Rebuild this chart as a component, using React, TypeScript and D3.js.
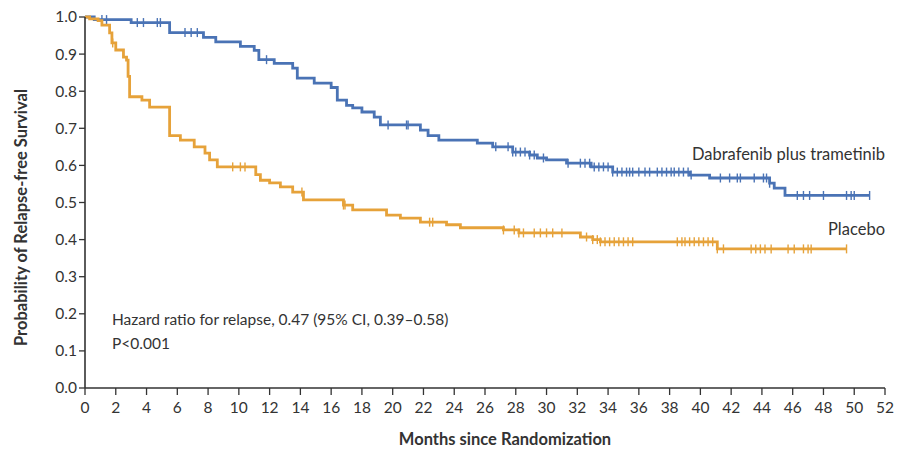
import * as d3 from 'd3'

const width = 899
const height = 449

const margin = { top: 17, right: 14, bottom: 61, left: 85 }

const xTicks = d3.range(0, 53, 2)
const yTicks = d3.range(0, 11).map((d) => d / 10)

// Kaplan-Meier steps: [month, survival]
const comboSteps: [number, number][] = [
  [0, 1.0], [0.6, 0.993], [3.0, 0.985], [5.5, 0.958], [7.7, 0.945], [8.5, 0.933],
  [10.1, 0.921], [11.0, 0.91], [11.3, 0.885], [12.3, 0.875], [13.5, 0.862],
  [13.8, 0.835], [14.9, 0.822], [16.0, 0.81], [16.4, 0.776], [17.0, 0.762],
  [17.4, 0.755], [18.0, 0.744], [18.8, 0.73], [19.2, 0.709], [21.8, 0.695],
  [22.3, 0.68], [23.0, 0.668], [25.5, 0.66], [26.5, 0.65], [27.8, 0.636],
  [28.9, 0.628], [29.4, 0.62], [30.0, 0.615], [31.3, 0.606], [32.9, 0.596],
  [34.3, 0.582], [39.3, 0.574], [40.6, 0.566], [44.5, 0.552], [44.8, 0.539],
  [45.5, 0.519], [51.0, 0.519]
]

const placeboSteps: [number, number][] = [
  [0, 1.0], [0.3, 0.995], [0.85, 0.99], [1.1, 0.978], [1.6, 0.957], [1.75, 0.93],
  [2.0, 0.911], [2.5, 0.892], [2.7, 0.884], [2.8, 0.84], [2.9, 0.785], [3.7, 0.776],
  [4.2, 0.757], [5.5, 0.68], [6.2, 0.668], [7.1, 0.65], [7.8, 0.633], [8.1, 0.615],
  [8.6, 0.596], [11.1, 0.575], [11.4, 0.56], [12.0, 0.553], [12.7, 0.542],
  [13.5, 0.528], [14.2, 0.507], [16.8, 0.493], [17.4, 0.48], [19.6, 0.466],
  [20.5, 0.458], [21.8, 0.447], [23.5, 0.44], [24.4, 0.432], [27.2, 0.426],
  [28.2, 0.418], [32.2, 0.407], [33.0, 0.4], [33.5, 0.394], [41.1, 0.375],
  [49.5, 0.375]
]

// censoring marks (months)
const comboCensored = [
  1.1, 1.4, 3.4, 3.8, 4.7, 4.9, 6.5, 6.9, 7.3, 11.8, 19.7, 20.9, 21.0, 26.7,
  27.5, 27.8, 28.0, 28.3, 28.6, 28.9, 29.2, 29.8, 31.4, 32.2, 32.5, 32.8, 33.1,
  33.4, 33.7, 34.0, 34.3, 34.6, 34.9, 35.2, 35.4, 35.6, 36.0, 36.4, 36.7, 37.2,
  37.5, 37.8, 38.1, 38.3, 38.6, 38.9, 39.2, 39.4, 41.3, 41.9, 42.4, 42.6, 43.5,
  44.1, 44.3, 44.5, 46.3, 46.7, 47.1, 48.0, 49.5, 49.8, 50.0, 51.0
]

const placeboCensored = [
  1.8, 9.6, 10.1, 10.4, 14.1, 16.8, 16.9, 22.4, 22.6, 27.2, 27.9, 28.2, 28.5,
  29.2, 29.6, 30.0, 30.4, 31.0, 32.6, 33.0, 33.3, 33.5, 33.8, 34.1, 34.4, 34.7,
  35.0, 35.3, 35.6, 38.5, 38.8, 39.0, 39.3, 39.6, 39.9, 40.2, 40.5, 40.8, 41.1,
  41.5, 43.3, 43.6, 43.9, 44.2, 44.6, 45.7, 46.1, 46.7, 47.0, 47.2, 49.5
]

const blue = '#4a73b5'
const orange = '#e6a23a'
const ink = '#333333'
const font = 'Lato, "Open Sans", sans-serif'

function survAt(steps: [number, number][], t: number) {
  let s = steps[0][1]
  for (const [x, y] of steps) {
    if (x <= t) s = y
  }
  return s
}

function App() {
  const innerWidth = width - margin.left - margin.right
  const innerHeight = height - margin.top - margin.bottom

  const xScale = d3.scaleLinear().domain([0, 52]).range([0, innerWidth])
  const yScale = d3.scaleLinear().domain([0, 1]).range([innerHeight, 0])

  const line = d3
    .line<[number, number]>()
    .x((d) => xScale(d[0]))
    .y((d) => yScale(d[1]))
    .curve(d3.curveStepAfter)

  const series = [
    { steps: comboSteps, censored: comboCensored, color: blue },
    { steps: placeboSteps, censored: placeboCensored, color: orange }
  ]

  return (
    <svg
      width={width}
      height={height}
      style={{ position: 'absolute', left: 0, top: 0, background: '#fff' }}
      fontFamily={font}
    >
      <g transform={`translate(${margin.left},${margin.top})`}>
        {series.map((s, i) => (
          <g key={i}>
            <path d={line(s.steps) || ''} fill="none" stroke={s.color} strokeWidth={2.8} />
            {s.censored.map((t, j) => {
              const cx = xScale(t)
              const cy = yScale(survAt(s.steps, t))
              return (
                <line key={j} x1={cx} x2={cx} y1={cy - 4.5} y2={cy + 4.5} stroke={s.color} strokeWidth={1.4} />
              )
            })}
          </g>
        ))}

        {/* y axis */}
        <line y1={0} y2={innerHeight} stroke={ink} strokeWidth={1.6} />
        {yTicks.map((v) => (
          <g key={v} transform={`translate(0,${yScale(v)})`}>
            <line x2={-6} stroke={ink} strokeWidth={1.3} />
            <text x={-8} dy="0.35em" textAnchor="end" fontSize={15.5} fill={ink}>
              {v.toFixed(1)}
            </text>
          </g>
        ))}

        {/* x axis */}
        <line x1={0} x2={innerWidth} y1={innerHeight} y2={innerHeight} stroke={ink} strokeWidth={1.6} />
        {xTicks.map((v) => (
          <g key={v} transform={`translate(${xScale(v)},${innerHeight})`}>
            <line y2={7} stroke={ink} strokeWidth={1.3} />
            <text y={25} textAnchor="middle" fontSize={15.5} fill={ink}>
              {v}
            </text>
          </g>
        ))}

        <text
          x={420}
          y={innerHeight + 57}
          textAnchor="middle"
          fontSize={16.5}
          fontWeight="bold"
          fill={ink}
        >
          Months since Randomization
        </text>
        <text
          transform={`translate(-58,${innerHeight / 2 + 15}) rotate(-90)`}
          textAnchor="middle"
          fontSize={16.5}
          fontWeight="bold"
          fill={ink}
        >
          Probability of Relapse-free Survival
        </text>

        <text x={xScale(52)} y={yScale(0.6) - 5} textAnchor="end" fontSize={16.5} fill={ink}>
          Dabrafenib plus trametinib
        </text>
        <text x={xScale(52)} y={yScale(0.4) - 5} textAnchor="end" fontSize={16.5} fill={ink}>
          Placebo
        </text>

        <text x={27} y={yScale(0.17)} fontSize={15.5} fill={ink}>
          Hazard ratio for relapse, 0.47 (95% CI, 0.39–0.58)
        </text>
        <text x={27} y={yScale(0.105)} fontSize={15.5} fill={ink}>
          P&lt;0.001
        </text>
      </g>
    </svg>
  )
}

export default App
